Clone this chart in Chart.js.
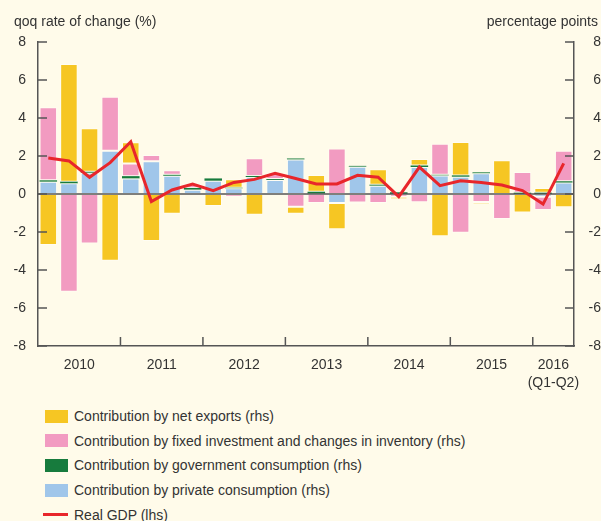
<!DOCTYPE html>
<html>
<head>
<meta charset="utf-8">
<script src="https://cdn.jsdelivr.net/npm/chart.js@4"></script>
<style>
body{margin:0;background:#fffbea;font-family:"Liberation Sans",Arial,sans-serif;color:#333;}
#wrap{position:relative;width:601px;height:521px;overflow:hidden;}
#chart{position:absolute;left:0;top:0;}
.ttl{position:absolute;top:13px;font-size:14px;}
#legend{position:absolute;left:43px;top:404px;font-size:14px;}
.item{height:24.6px;display:flex;align-items:center;}
.box{width:23px;height:13px;margin-left:2px;margin-right:6px;}
.ln{width:25px;height:3px;margin-right:6px;}
</style>
</head>
<body>
<div id="wrap">
<canvas id="chart" width="601" height="400"></canvas>
<div class="ttl" style="left:14px">qoq rate of change (%)</div>
<div class="ttl" style="right:3px">percentage points</div>
<div id="legend"></div>
</div>
<script>
// quarters 2010 Q1 - 2016 Q2
const quarters=[];
for(let y=2010;y<=2016;y++){for(let q=1;q<=4;q++){if(y===2016&&q>2)break;quarters.push(y+" Q"+q);}}
const yearLabels=["2010","2011","2012","2013","2014","2015",["2016","(Q1-Q2)"]];

const privateCons=[0.65,0.56,1.12,2.28,0.82,1.72,0.96,0.23,0.70,0.30,0.89,0.74,1.82,0.02,-0.47,1.44,0.44,0,1.42,0.98,0.91,1.09,0,0,-0.14,0.60];
const govCons=[0.07,0.09,0.05,0,0.12,0,0.05,0.09,0.12,0.03,0.06,0.05,0.05,0.10,0,0.04,0.05,0.09,0.08,0.03,0.07,0.05,0,0.07,0.07,0.07];
const investment=[3.85,-5.14,-2.61,2.84,0.67,0.33,0.24,0.21,0,-0.14,0.93,0.30,-0.67,-0.47,2.40,-0.45,-0.47,-0.15,-0.44,1.63,-2.04,-0.42,-1.32,1.09,-0.70,1.61];
const netExports=[-2.68,6.19,2.29,-3.51,1.12,-2.47,-1.04,0,-0.63,0.45,-1.09,0,-0.37,0.88,-1.39,-0.06,0.81,-0.12,0.34,-2.23,1.76,-0.12,1.77,-0.98,0.25,-0.70];
const realGDP=[1.89,1.74,0.88,1.65,2.75,-0.40,0.21,0.52,0.18,0.61,0.77,1.09,0.82,0.53,0.53,0.98,0.88,-0.14,1.42,0.44,0.70,0.61,0.47,0.18,-0.53,1.61];

Chart.defaults.font.family='"Liberation Sans", Arial, sans-serif';
Chart.defaults.font.size=14;
Chart.defaults.color="#333";

const AXIS="#555";

// inward tick marks + zero line
const axisMarks={
id:"axisMarks",
beforeDatasetDraw(chart,args){
if(args.index!==0)return;
const ctx=chart.ctx,a=chart.chartArea,y0=chart.scales.y1.getPixelForValue(0);
ctx.save();
ctx.strokeStyle=AXIS;ctx.lineWidth=1.5;
ctx.beginPath();ctx.moveTo(a.left,y0);ctx.lineTo(a.right,y0);ctx.stroke();
ctx.restore();
},
afterDraw(chart){
const ctx=chart.ctx,a=chart.chartArea,x=chart.scales.x,y=chart.scales.y;
ctx.save();
ctx.strokeStyle=AXIS;ctx.lineWidth=1.5;
ctx.beginPath();
y.ticks.forEach(t=>{
const py=y.getPixelForValue(t.value);
ctx.moveTo(a.left,py);ctx.lineTo(a.left+9,py);
ctx.moveTo(a.right-9,py);ctx.lineTo(a.right,py);
});
for(let i=4;i<quarters.length;i+=4){
const px=(x.getPixelForValue(i-1)+x.getPixelForValue(i))/2;
ctx.moveTo(px,a.bottom);ctx.lineTo(px,a.bottom-9);
}
ctx.stroke();
ctx.restore();
}
};

function bar(label,data,color,bw){
return {type:"bar",label:label,data:data,backgroundColor:color,borderColor:"rgba(255,255,255,0.45)",borderWidth:bw,borderSkipped:false,yAxisID:"y1",order:1,stack:"s",categoryPercentage:1,barPercentage:0.85};
}

const chart=new Chart(document.getElementById("chart"),{
data:{
labels:quarters,
datasets:[
{type:"line",label:"Real GDP (lhs)",data:realGDP,borderColor:"#e8262b",backgroundColor:"#e8262b",borderWidth:3,pointRadius:0,tension:0,yAxisID:"y",order:0},
bar("Contribution by private consumption (rhs)",privateCons,"#a0c6ea",1),
bar("Contribution by government consumption (rhs)",govCons,"#177b3d",0),
bar("Contribution by fixed investment and changes in inventory (rhs)",investment,"#f29bc1",1),
bar("Contribution by net exports (rhs)",netExports,"#f6c623",1)
]
},
options:{
responsive:false,
animation:false,
layout:{padding:{top:42,left:0,right:0,bottom:0}},
plugins:{legend:{display:false},tooltip:{enabled:false}},
scales:{
x:{
offset:true,stacked:true,
grid:{display:false,drawTicks:false},
border:{display:true,color:AXIS,width:1.5},
ticks:{autoSkip:false,maxRotation:0,padding:10,labelOffset:10.3,font:{size:14,lineHeight:1.3},
callback:(v,i)=>{const yr=Math.floor(i/4),q=i%4;if(yr<6)return q===1?yearLabels[yr]:"";return q===0?yearLabels[6]:"";}},
afterFit:s=>{s.height=54;}
},
y:{
position:"left",min:-8,max:8,
grid:{display:false,drawTicks:false},
border:{display:true,color:AXIS,width:1.5},
ticks:{stepSize:2,padding:12},
afterFit:s=>{s.width=38;}
},
y1:{
position:"right",min:-8,max:8,stacked:true,
grid:{display:false,drawTicks:false},
border:{display:true,color:AXIS,width:1.5},
ticks:{stepSize:2,padding:2,crossAlign:"far"},
afterFit:s=>{s.width=27;}
}
}
},
plugins:[axisMarks]
});

// legend, same order as the reference
const leg=document.getElementById("legend");
[4,3,2,1,0].forEach(i=>{
const ds=chart.data.datasets[i];
const row=document.createElement("div");
row.className="item";
const sw=document.createElement("span");
sw.className=ds.type==="line"?"ln":"box";
sw.style.background=ds.backgroundColor;
const tx=document.createElement("span");
tx.innerText=ds.label;
row.appendChild(sw);row.appendChild(tx);
leg.appendChild(row);
});
</script>
</body>
</html>
